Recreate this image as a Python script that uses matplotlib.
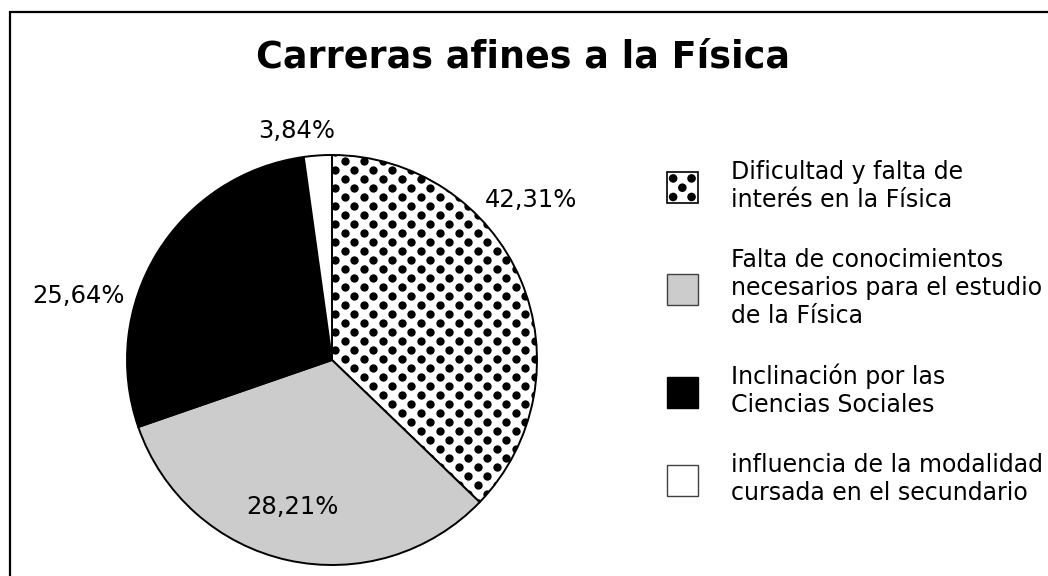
import numpy as np
import matplotlib
matplotlib.use('Agg')
import matplotlib.pyplot as plt
from matplotlib.patches import Rectangle, Circle, Patch
from matplotlib.legend_handler import HandlerBase

plt.rcParams['font.family'] = ['DejaVu Sans']

titulo = 'Carreras afines a la Física'
categorias = ['Dificultad y falta de\ninterés en la Física',
              'Falta de conocimientos\nnecesarios para el estudio\nde la Física',
              'Inclinación por las\nCiencias Sociales',
              'influencia de la modalidad\ncursada en el secundario']
# porciones tal como aparecen dibujadas en el grafico original
porciones = [37.2, 32.5, 28.1, 2.2]
etiquetas = ['42,31%', '28,21%', '25,64%', '3,84%']
colores = ['white', '#cccccc', 'black', 'white']

# donde va cada etiqueta (en radios del circulo)
pos_etiquetas = [(0.97, 0.78), (-0.195, -0.717), (-1.239, 0.312), (-0.171, 1.117)]


class HandlerPuntos(HandlerBase):
    # cuadrito con puntos para la leyenda
    def create_artists(self, legend, orig_handle, xdescent, ydescent,
                       width, height, fontsize, trans):
        x0, y0 = -xdescent, -ydescent
        caja = Rectangle((x0, y0), width, height, facecolor='white',
                         edgecolor='black', lw=1.2, transform=trans)
        r = 0.14 * width
        arts = [caja]
        for fx, fy in [(0.2, 0.8), (0.8, 0.8), (0.5, 0.5), (0.2, 0.2), (0.8, 0.2)]:
            arts.append(Circle((x0 + fx * width, y0 + fy * height), r,
                               facecolor='black', edgecolor='none', transform=trans))
        return arts


fig = plt.figure(figsize=(10.48, 5.76), dpi=100)

# marco del grafico
fig.patches.append(Rectangle((10 / 1048, -0.1), 1.2, 1 - 12 / 576 + 0.1,
                             transform=fig.transFigure, fill=False,
                             lw=1.6, edgecolor='black'))

fig.text(523 / 1048, 1 - 67 / 576, titulo, ha='center', va='baseline',
         fontsize=26.3, fontweight='bold')

ax = fig.add_axes([127 / 1048, 11 / 576, 410 / 1048, 410 / 576])
wedges, _ = ax.pie(porciones, colors=colores, startangle=90, counterclock=False,
                   wedgeprops=dict(edgecolor='black', linewidth=1.4))
ax.set_xlim(-1, 1)
ax.set_ylim(-1, 1)

# textura de puntos para la primera porcion
wedges[0].set_facecolor('none')
paso_x = 19 / 205
paso_y = 9 / 205
px, py = [], []
for i, y in enumerate(np.arange(-1.05, 1.06, paso_y)):
    off = (i % 2) * paso_x / 2
    for x in np.arange(-1.05 + off, 1.06, paso_x):
        px.append(x)
        py.append(y)
puntos = ax.scatter(px, py, s=36, c='black', linewidths=0, zorder=0.9)
puntos.set_clip_path(wedges[0])

for txt, (x, y) in zip(etiquetas, pos_etiquetas):
    ax.text(x, y, txt, ha='center', va='center', fontsize=17.5)

mancha = Patch(facecolor='white', edgecolor='black')
handles = [mancha,
           Patch(facecolor='#cccccc', edgecolor='#404040'),
           Patch(facecolor='black', edgecolor='black'),
           Patch(facecolor='white', edgecolor='#404040')]
fig.legend(handles, categorias, loc='upper left',
           bbox_to_anchor=(667 / 1048, 1 - 160 / 576), frameon=False,
           fontsize=17, handlelength=1.3, handleheight=1.64, handletextpad=1.4,
           labelspacing=1.53, borderpad=0, borderaxespad=0,
           handler_map={mancha: HandlerPuntos()})

plt.savefig('out.png', dpi=100)
